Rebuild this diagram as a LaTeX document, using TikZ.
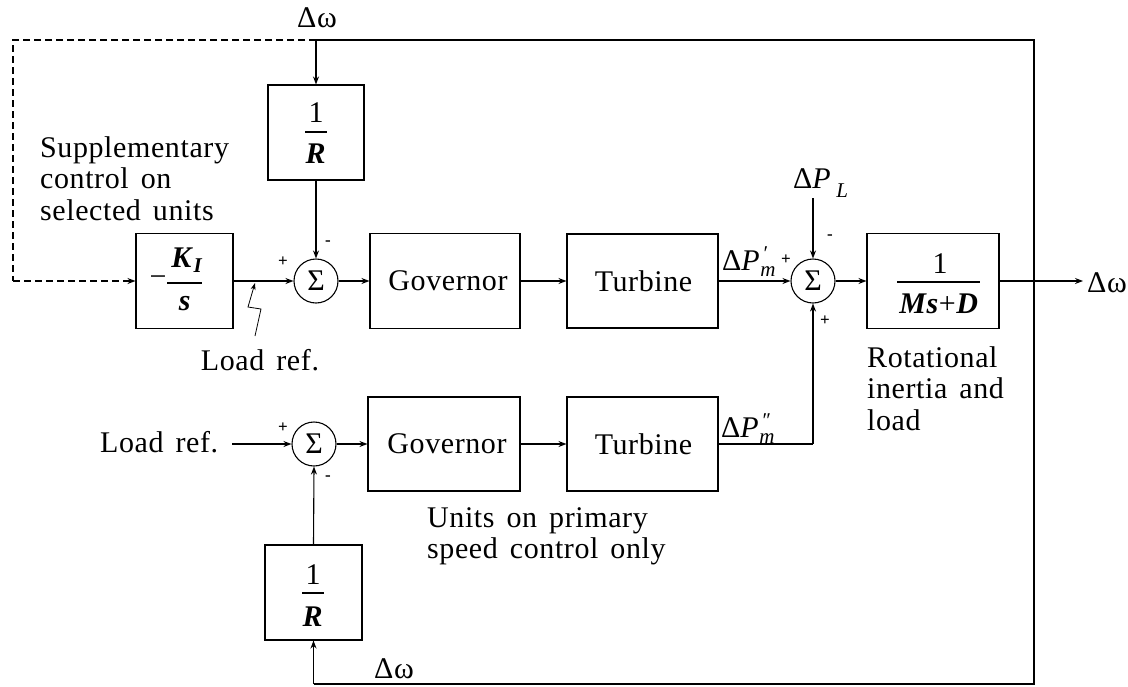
\documentclass[tikz,border=0pt]{standalone}
\usepackage{fontspec}
\setmainfont[LetterSpace=2]{Liberation Serif}
\usetikzlibrary{arrows.meta}
\newcommand\fs{\fontsize{30}{31.5}\selectfont\spaceskip=0.4em plus 0.1em\relax}
\newcommand\subfs{\fontsize{21}{21}\selectfont}
\begin{document}
\begin{tikzpicture}[x=1pt,y=-1pt,
  wire/.style={line width=1.1pt},
  arr/.style={wire,-{Stealth[length=8pt,width=6pt]}},
  blk/.style={draw,line width=1.1pt,inner sep=0pt,font=\fs},
  sumj/.style={draw,circle,minimum size=44pt,inner sep=0pt,line width=1.1pt,font=\fs},
  lbl/.style={inner sep=0pt,font=\fs},
  sgn/.style={inner sep=0pt,font=\bfseries\fontsize{17}{17}\selectfont}]
\useasboundingbox (0,0) rectangle (1128,686);

% blocks
\node[blk,minimum width=96pt,minimum height=95pt] (R1) at (316,132.5) {};
\node[blk,minimum width=97pt,minimum height=95pt] (KI) at (184.5,281) {};
\node[blk,minimum width=150pt,minimum height=95pt] (G1) at (445,281) {\hspace{6pt}Governor};
\node[blk,minimum width=151pt,minimum height=94pt] (T1) at (642.5,281) {\hspace{2pt}Turbine};
\node[blk,minimum width=132pt,minimum height=95pt] (MD) at (933,281) {};
\node[blk,minimum width=152pt,minimum height=94pt] (G2) at (444,444) {\hspace{6pt}Governor};
\node[blk,minimum width=151pt,minimum height=94pt] (T2) at (642.5,444) {\hspace{2pt}Turbine};
\node[blk,minimum width=97pt,minimum height=95pt] (R2) at (313.5,592.5) {};

% summing junctions
\node[sumj] (S1) at (316,281) {Σ};
\node[sumj] (S2) at (813,281) {Σ};
\node[sumj] (S3) at (314,444) {Σ};

% fraction contents
\node[lbl,anchor=base] (R1num) at (316,122) {1};
\draw[wire] (305,132) -- (327,132);
\node[lbl,anchor=base] (R1den) at (316,163) {\textbf{\textit{R}}};

\node[lbl] (KIminus) at (158,281) {−};
\node[lbl,anchor=base] (KInum) at (187,267) {\textbf{\textit{K}}\raisebox{-5pt}{\subfs\textbf{\textit{I}}}};
\draw[wire] (167,283) -- (202,283);
\node[lbl,anchor=base] (KIden) at (185,310) {\textbf{\textit{s}}};

\node[lbl,anchor=base] (MDnum) at (940,273) {1};
\draw[wire] (897,282) -- (980,282);
\node[lbl,anchor=base] (MDden) at (939,313) {\textbf{\textit{Ms}}+\textbf{\textit{D}}};

\node[lbl,anchor=base] (R2num) at (313,584) {1};
\draw[wire] (302,593) -- (324,593);
\node[lbl,anchor=base] (R2den) at (313,626) {\textbf{\textit{R}}};

% coordinates
\coordinate (ctop) at (316,40);
\coordinate (TL) at (13,40);
\coordinate (ML) at (13,281);
\coordinate (TR) at (1034,40);
\coordinate (J) at (1034,281);
\coordinate (BR) at (1034,684);
\coordinate (BL) at (313.5,684);
\coordinate (outend) at (1083,281);
\coordinate (PLin) at (813,198);
\coordinate (Pm2) at (813,444);
\coordinate (LRin) at (232,444);
\coordinate (z0) at (255,336);
\coordinate (z1) at (261,309);
\coordinate (z2) at (248,307);
\coordinate (z3) at (255,283);

% labels
\node[lbl,anchor=base] (dwtop) at (317,27) {Δω};
\node[lbl,anchor=base west] (dwout) at (1087,292) {Δω};
\node[lbl,anchor=base] (dwbot) at (394,678) {Δω};
\node[lbl,anchor=base west] (dPL) at (793,188) {Δ\textit{P}\,\raisebox{-9pt}{\subfs\textit{L}}};
\node[lbl,anchor=base west] (dPm1) at (722,270) {Δ\textit{P}\raisebox{-6pt}{\subfs\textit{\rlap{\raisebox{16pt}{\kern2pt′}}m}}};
\node[lbl,anchor=base west] (dPm2) at (721,437) {Δ\textit{P}\raisebox{-6pt}{\subfs\textit{\rlap{\raisebox{16pt}{\kern2pt′\kern-1pt′}}m}}};
\node[lbl,anchor=north west,align=left] (supp) at (40,136) {Supplementary\\control on\\selected units};
\node[lbl,anchor=base] (LR1) at (260,370) {Load ref.};
\node[lbl,anchor=base west] (LR2) at (100,452) {Load ref.};
\node[lbl,anchor=north west,align=left] (rot) at (867,346) {Rotational\\inertia and\\load};
\node[lbl,anchor=north west,align=left] (units) at (427,507) {Units on primary\\speed control only};

% signs
\node[sgn] (s1p) at (283,262) {+};
\node[sgn] (s1m) at (328,243) {-};
\node[sgn] (s2p) at (786,260) {+};
\node[sgn] (s2m) at (830,237) {-};
\node[sgn] (s2b) at (825,321) {+};
\node[sgn] (s3p) at (283,428) {+};
\node[sgn] (s3m) at (328,478) {-};

% connectors
\draw[wire,dash pattern=on 7pt off 4pt] (ctop) -- (TL) -- (ML);
\draw[arr,dash pattern=on 7pt off 4pt] (ML) -- (KI.west);
\draw[wire] (ctop) -- (TR) -- (J) -- (BR) -- (BL);
\draw[arr] (BL) -- (R2.south);
\draw[arr] (ctop) -- (R1.north);
\draw[arr] (R1.south) -- (S1.north);
\draw[arr] (KI.east) -- (S1.west);
\draw[arr] (S1.east) -- (G1.west);
\draw[arr] (G1.east) -- (T1.west);
\draw[arr] (T1.east) -- (S2.west);
\draw[arr] (PLin) -- (S2.north);
\draw[arr] (S2.east) -- (MD.west);
\draw[arr] (MD.east) -- (outend);
\draw[arr] (LRin) -- (S3.west);
\draw[arr] (S3.east) -- (G2.west);
\draw[arr] (G2.east) -- (T2.west);
\draw[wire] (T2.east) -- (Pm2);
\draw[arr] (Pm2) -- (S2.south);
\draw[arr] (R2.north) -- (S3.south);
\draw[line width=0.8pt,-{Stealth[length=7pt,width=5pt]}] (z0) -- (z1) -- (z2) -- (z3);
\end{tikzpicture}
\end{document}
